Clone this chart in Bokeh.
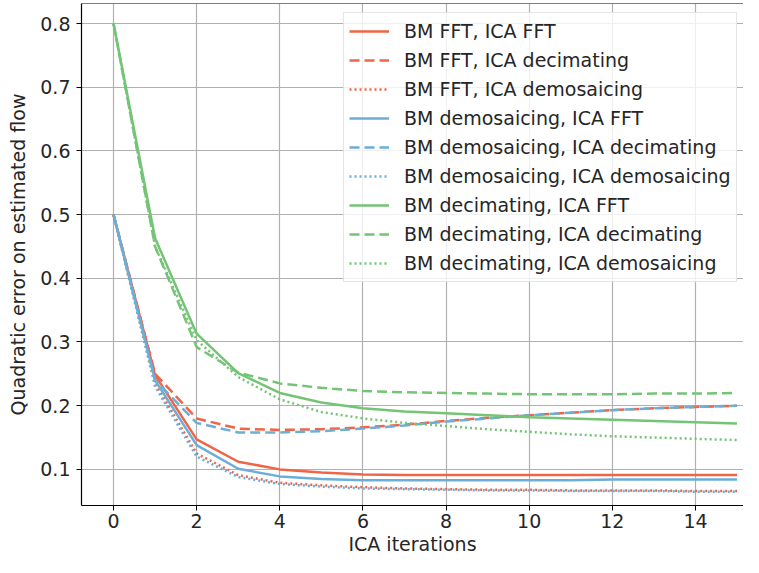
from bokeh.plotting import figure
from bokeh.models import Range1d, FixedTicker, Legend, LegendItem, Span
from bokeh.embed import file_html
from bokeh.resources import INLINE

iterations = list(range(16))

bm_fft_ica_fft = [0.50, 0.248, 0.147, 0.112, 0.100, 0.095, 0.092, 0.091, 0.091, 0.091, 0.091, 0.091, 0.091, 0.091, 0.091, 0.091]
bm_fft_ica_dec = [0.50, 0.250, 0.180, 0.164, 0.162, 0.163, 0.166, 0.170, 0.176, 0.181, 0.185, 0.189, 0.193, 0.196, 0.198, 0.200]
bm_fft_ica_dem = [0.50, 0.235, 0.125, 0.091, 0.079, 0.075, 0.072, 0.070, 0.069, 0.068, 0.068, 0.067, 0.067, 0.067, 0.066, 0.066]
bm_dem_ica_fft = [0.50, 0.240, 0.138, 0.101, 0.089, 0.085, 0.083, 0.083, 0.083, 0.083, 0.083, 0.083, 0.084, 0.084, 0.084, 0.084]
bm_dem_ica_dec = [0.50, 0.240, 0.173, 0.158, 0.158, 0.160, 0.164, 0.169, 0.175, 0.180, 0.185, 0.189, 0.193, 0.196, 0.198, 0.200]
bm_dem_ica_dem = [0.50, 0.230, 0.120, 0.088, 0.077, 0.073, 0.070, 0.069, 0.068, 0.067, 0.067, 0.066, 0.066, 0.066, 0.065, 0.065]
bm_dec_ica_fft = [0.80, 0.463, 0.313, 0.251, 0.220, 0.205, 0.196, 0.191, 0.188, 0.185, 0.182, 0.180, 0.178, 0.176, 0.174, 0.172]
bm_dec_ica_dec = [0.80, 0.450, 0.292, 0.252, 0.235, 0.228, 0.223, 0.221, 0.220, 0.219, 0.218, 0.218, 0.218, 0.219, 0.219, 0.220]
bm_dec_ica_dem = [0.80, 0.450, 0.303, 0.245, 0.210, 0.190, 0.180, 0.173, 0.168, 0.163, 0.159, 0.155, 0.152, 0.150, 0.148, 0.146]

series = [
    ("BM FFT, ICA FFT", bm_fft_ica_fft, "#ef6548", "solid"),
    ("BM FFT, ICA decimating", bm_fft_ica_dec, "#ef6548", "10 5"),
    ("BM FFT, ICA demosaicing", bm_fft_ica_dem, "#ef6548", "2 3"),
    ("BM demosaicing, ICA FFT", bm_dem_ica_fft, "#6baed6", "solid"),
    ("BM demosaicing, ICA decimating", bm_dem_ica_dec, "#6baed6", "10 5"),
    ("BM demosaicing, ICA demosaicing", bm_dem_ica_dem, "#6baed6", "2 3"),
    ("BM decimating, ICA FFT", bm_dec_ica_fft, "#74c476", "solid"),
    ("BM decimating, ICA decimating", bm_dec_ica_dec, "#74c476", "10 5"),
    ("BM decimating, ICA demosaicing", bm_dec_ica_dem, "#74c476", "2 3"),
]

x_ticks = [0, 2, 4, 6, 8, 10, 12, 14]
y_ticks = [0.1, 0.2, 0.3, 0.4, 0.5, 0.6, 0.7, 0.8]

FONT = "DejaVu Sans"
FS = "19px"
Y_END = 0.8314

p = figure(width=743, height=557, output_backend="svg", toolbar_location=None,
           x_range=Range1d(-0.77, 15.155), y_range=Range1d(0.0433, Y_END),
           min_border_left=81, min_border_right=0, min_border_top=3,
           min_border_bottom=30)
p.outline_line_color = None
p.background_fill_color = "white"
p.border_fill_color = "white"

items = []
for label, vals, color, dash in series:
    r = p.line(iterations, vals, line_color=color, line_width=2.5, line_dash=dash)
    items.append(LegendItem(label=label, renderers=[r]))

top_spine = Span(location=Y_END, dimension="width", line_color="black", line_width=1.2)
p.add_layout(top_spine)

for ax in (p.xaxis[0], p.yaxis[0]):
    ax.axis_line_color = "black"
    ax.axis_line_width = 1.2
    ax.major_tick_line_color = "black"
    ax.major_tick_in = 0
    ax.major_tick_out = 5
    ax.minor_tick_line_color = None
    ax.major_label_text_font = FONT
    ax.major_label_text_font_size = FS
    ax.major_label_text_color = "#262626"
    ax.axis_label_text_font = FONT
    ax.axis_label_text_font_size = FS
    ax.axis_label_text_font_style = "normal"
    ax.axis_label_text_color = "#262626"

p.xaxis.ticker = FixedTicker(ticks=x_ticks)
p.yaxis.ticker = FixedTicker(ticks=y_ticks)
p.xaxis.axis_label = "ICA iterations"
p.yaxis.axis_label = "Quadratic error on estimated flow"
p.xaxis.major_label_standoff = 3
p.yaxis.major_label_standoff = 6
p.xaxis.axis_label_standoff = 2
p.yaxis.axis_label_standoff = 8

p.xgrid.ticker = FixedTicker(ticks=x_ticks)
p.ygrid.ticker = FixedTicker(ticks=y_ticks)
for g in (p.xgrid[0], p.ygrid[0]):
    g.grid_line_color = "#b0b0b0"
    g.grid_line_width = 1.2

legend = Legend(items=items, location=(262, 223))
legend.margin = 0
legend.padding = 5
legend.spacing = 3
legend.label_height = 26
legend.glyph_height = 26
legend.glyph_width = 40
legend.label_standoff = 15
legend.label_text_font = FONT
legend.label_text_font_size = FS
legend.label_text_color = "#262626"
legend.background_fill_color = "white"
legend.background_fill_alpha = 0.8
legend.border_line_color = "#cccccc"
legend.border_line_width = 1
p.add_layout(legend)

open("out.html", "w").write(file_html(p, INLINE))
